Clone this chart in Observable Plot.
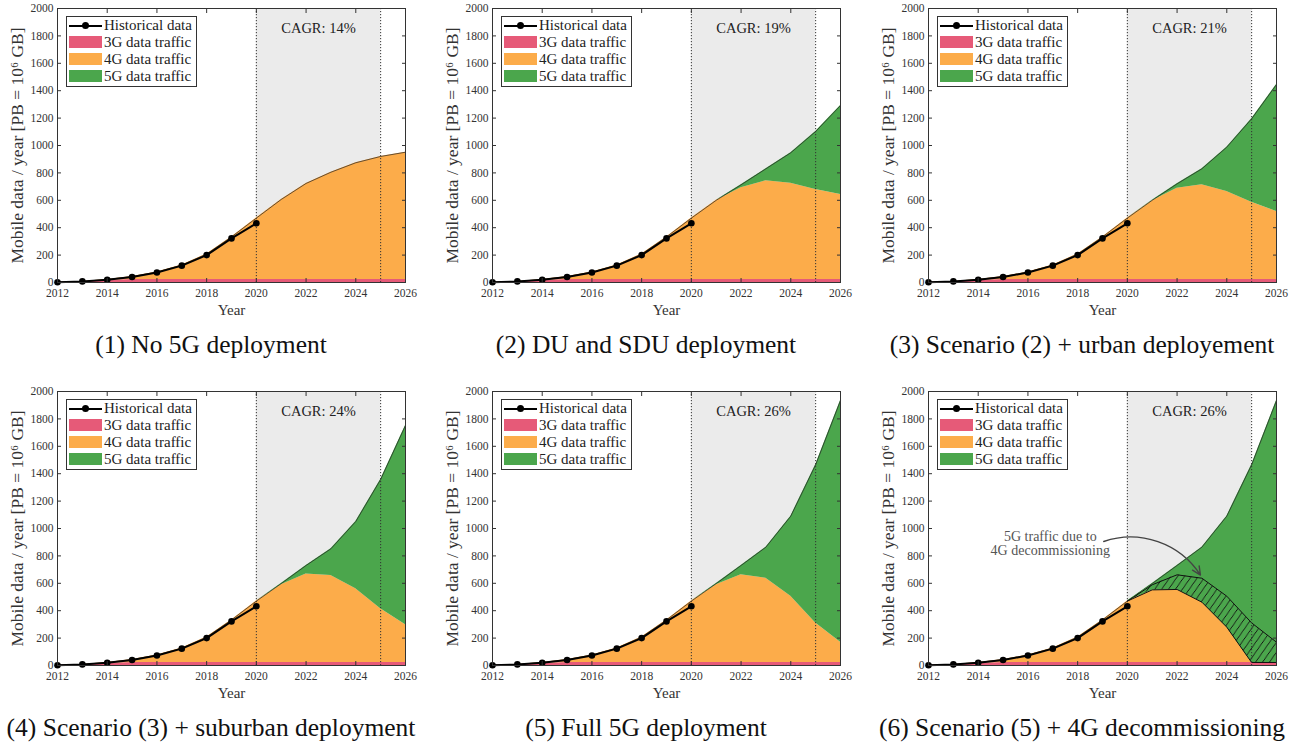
<!DOCTYPE html>
<html>
<head>
<meta charset="utf-8">
<script src="https://cdn.jsdelivr.net/npm/d3@7"></script>
<script src="https://cdn.jsdelivr.net/npm/@observablehq/plot@0.6"></script>
<style>
  body { margin: 0; background: #fff; }
  #fig { position: relative; width: 1309px; height: 744px; overflow: hidden; font-family: "Liberation Serif", serif; color: #222; }
  .panel { position: absolute; width: 430px; height: 322px; }
  .panel svg { position: absolute; left: 0; top: 0; }
  .legend { position: absolute; left: 66px; top: 16px; width: 129px; height: 69px; border: 1px solid #333; background: #fff; }
  .lrow { position: absolute; left: 0; height: 17px; width: 129px; }
  .sw { position: absolute; left: 2px; top: 2px; width: 33px; height: 12px; }
  .swline { position: absolute; left: 2px; top: 7.5px; width: 33px; height: 2px; background: #000; }
  .swdot { position: absolute; left: 15px; top: 5px; width: 7px; height: 7px; border-radius: 50%; background: #000; }
  .lt { position: absolute; left: 37px; top: 0; line-height: 17px; font-size: 15px; white-space: nowrap; color: #222; }
  .caption { position: absolute; left: -40px; width: 502px; top: 330px; line-height: 30px; text-align: center; font-size: 25.5px; white-space: nowrap; color: #111; }
</style>
</head>
<body>
<div id="fig"></div>
<script>
// ---------------- data ----------------
const years = [2012, 2013, 2014, 2015, 2016, 2017, 2018, 2019, 2020, 2021, 2022, 2023, 2024, 2025, 2026];
const histYears = [2012, 2013, 2014, 2015, 2016, 2017, 2018, 2019, 2020];
const histData = [2, 8, 20, 40, 73, 123, 200, 322, 432];

const traffic3G = [1, 6, 17, 22, 22, 22, 22, 22, 22, 22, 22, 22, 22, 22, 22];

const traffic4G_s1 = [1, 2, 5, 21, 54, 105, 186, 311, 448, 584, 701, 783, 852, 898, 929];
const traffic5G_s1 = [0, 0, 0, 0, 0, 0, 0, 0, 0, 0, 0, 0, 0, 0, 0];
const traffic4G_s2 = [1, 2, 5, 21, 54, 105, 186, 311, 448, 578, 669, 720, 703, 657, 620];
const traffic5G_s2 = [0, 0, 0, 0, 0, 0, 0, 0, 0, 0, 22, 88, 222, 423, 650];
const traffic4G_s3 = [1, 2, 5, 21, 54, 105, 186, 311, 448, 574, 666, 691, 642, 564, 496];
const traffic5G_s3 = [0, 0, 0, 0, 0, 0, 0, 0, 0, 4, 32, 117, 324, 609, 927];
const traffic4G_s4 = [1, 2, 5, 21, 54, 105, 186, 311, 448, 567, 645, 635, 538, 392, 275];
const traffic5G_s4 = [0, 0, 0, 0, 0, 0, 0, 0, 0, 9, 63, 195, 491, 944, 1455];
const traffic4G_s5 = [1, 2, 5, 21, 54, 105, 186, 311, 448, 567, 640, 615, 484, 289, 148];
const traffic5G_s5 = [0, 0, 0, 0, 0, 0, 0, 0, 0, 9, 68, 227, 584, 1154, 1764];
const traffic4G_s6 = [1, 2, 5, 21, 54, 105, 186, 311, 448, 530, 533, 440, 258, 0, 0];
const traffic5G_s6 = [0, 0, 0, 0, 0, 0, 0, 0, 0, 46, 175, 402, 810, 1443, 1912];

const cagr = [14, 19, 21, 24, 26, 26];
const captions = [
  "(1) No 5G deployment",
  "(2) DU and SDU deployment",
  "(3) Scenario (2) + urban deployement",
  "(4) Scenario (3) + suburban deployment",
  "(5) Full 5G deployment",
  "(6) Scenario (5) + 4G decommissioning"
];
const seriesNames = ["3G", "4G", "5G"];
const legendLabels = ["Historical data", "3G data traffic", "4G data traffic", "5G data traffic"];
const seriesColors = ["#e65a78", "#fcac4a", "#4ba64c"];
const forecastWindow = [2020, 2025];
const xTicks = [2012, 2014, 2016, 2018, 2020, 2022, 2024, 2026];
const yTicks = [0, 200, 400, 600, 800, 1000, 1200, 1400, 1600, 1800, 2000];
const yLabel = "Mobile data / year [PB = 10\u2076 GB]";
const xLabel = "Year";
const annotation = "5G traffic due to\n4G decommissioning";
const annotationPos = {x: 2016.9, y: 890};
const arrowFrom = {x: 2019.05, y: 905};
const arrowTo = {x: 2022.94, y: 660};

const traffic4G = [traffic4G_s1, traffic4G_s2, traffic4G_s3, traffic4G_s4, traffic4G_s5, traffic4G_s6];
const traffic5G = [traffic5G_s1, traffic5G_s2, traffic5G_s3, traffic5G_s4, traffic5G_s5, traffic5G_s6];

// ---------------- layout ----------------
const panelLefts = [0, 435, 871];
const panelTops = [0, 383];
const fig = document.getElementById("fig");

function makePlot(i) {
  const g4 = traffic4G[i], g5 = traffic5G[i];
  const rows = [];
  years.forEach((yr, j) => {
    rows.push({year: yr, series: "3G", value: traffic3G[j]});
    rows.push({year: yr, series: "4G", value: g4[j]});
    rows.push({year: yr, series: "5G", value: g5[j]});
  });
  const totals = years.map((yr, j) => ({year: yr, value: traffic3G[j] + g4[j] + g5[j]}));
  const hist = histYears.map((yr, j) => ({year: yr, value: histData[j]}));

  const marks = [
    Plot.rect([forecastWindow], {x1: d => d[0], x2: d => d[1], fill: "#ebebeb"}),
    Plot.areaY(rows, {x: "year", y: "value", fill: "series", order: seriesNames}),
    Plot.lineY(totals, {x: "year", y: "value", stroke: "#222", strokeWidth: 0.7})
  ];

  if (i === 5) {
    const hatchRows = years.map((yr, j) => ({
      year: yr,
      low: traffic3G[j] + traffic4G_s6[j],
      high: traffic3G[j] + traffic4G_s5[j]
    })).filter(d => d.year >= forecastWindow[0]);
    marks.push(
      Plot.areaY(hatchRows, {x: "year", y1: "low", y2: "high", fill: "url(#hatch6)"}),
      Plot.line(hatchRows, {x: "year", y: "high", stroke: "#111", strokeWidth: 1}),
      Plot.line(hatchRows, {x: "year", y: "low", stroke: "#111", strokeWidth: 1}),
      Plot.text([annotation], {x: annotationPos.x, y: annotationPos.y, text: d => d, fontSize: 14, fill: "#555", lineHeight: 1.0}),
      Plot.arrow([{}], {x1: arrowFrom.x, y1: arrowFrom.y, x2: arrowTo.x, y2: arrowTo.y, bend: 38, stroke: "#444", strokeWidth: 1.4, headLength: 10, headAngle: 50, insetEnd: 0})
    );
  }

  marks.push(
    Plot.ruleX(forecastWindow, {stroke: "#333", strokeDasharray: "1.2,1.8", strokeWidth: 1}),
    Plot.line(hist, {x: "year", y: "value", stroke: "#000", strokeWidth: 2}),
    Plot.dot(hist, {x: "year", y: "value", fill: "#000", r: 3.3}),
    Plot.text([cagr[i]], {x: (forecastWindow[0] + forecastWindow[1]) / 2, frameAnchor: "top", lineAnchor: "middle", dy: 20, text: d => `CAGR: ${d}%`, fontSize: 14.5, fill: "#222"}),
    Plot.text([xLabel], {frameAnchor: "bottom", lineAnchor: "middle", dy: 28, text: d => d, fontSize: 15, fill: "#333"}),
    Plot.text([yLabel], {frameAnchor: "left", textAnchor: "middle", lineAnchor: "middle", dx: -40, rotate: -90, text: d => d, fontSize: 17.5, fill: "#333"}),
    Plot.frame({stroke: "#333", strokeWidth: 1}),
    Plot.axisX(xTicks, {tickSize: 0, tickPadding: 6, tickFormat: d => String(d), label: null, fill: "#333"}),
    Plot.axisX(xTicks, {anchor: "bottom", tickSize: -4, tickFormat: () => "", label: null, stroke: "#333"}),
    Plot.axisX(xTicks, {anchor: "top", tickSize: -4, tickFormat: () => "", label: null, stroke: "#333"}),
    Plot.axisY(yTicks, {tickSize: 0, tickPadding: 4, tickFormat: d => String(d), label: null, fill: "#333"}),
    Plot.axisY(yTicks, {anchor: "left", tickSize: -4, tickFormat: () => "", label: null, stroke: "#333"}),
    Plot.axisY(yTicks, {anchor: "right", tickSize: -4, tickFormat: () => "", label: null, stroke: "#333"})
  );

  const svg = Plot.plot({
    width: 430,
    height: 322,
    marginLeft: 57,
    marginRight: 25,
    marginTop: 8,
    marginBottom: 40,
    style: {fontFamily: "'Liberation Serif', serif", fontSize: "11.5px", background: "transparent", color: "#333", overflow: "visible"},
    x: {domain: [years[0], years[years.length - 1]]},
    y: {domain: [yTicks[0], yTicks[yTicks.length - 1]]},
    color: {domain: seriesNames, range: seriesColors},
    marks
  });

  if (i === 5) {
    const defs = document.createElementNS("http://www.w3.org/2000/svg", "defs");
    defs.innerHTML = `<pattern id="hatch6" patternUnits="userSpaceOnUse" width="8" height="8" patternTransform="rotate(-10)">
      <rect width="8" height="8" fill="${seriesColors[2]}"></rect>
      <path d="M-2,2 L2,-2 M0,8 L8,0 M6,10 L10,6" stroke="#111" stroke-width="1"></path>
    </pattern>`;
    svg.insertBefore(defs, svg.firstChild);
  }
  return svg;
}

function makeLegend() {
  const box = document.createElement("div");
  box.className = "legend";
  legendLabels.forEach((lab, k) => {
    const row = document.createElement("div");
    row.className = "lrow";
    row.style.top = (k * 17) + "px";
    if (k === 0) {
      const ln = document.createElement("div"); ln.className = "swline"; row.appendChild(ln);
      const dt = document.createElement("div"); dt.className = "swdot"; row.appendChild(dt);
    } else {
      const sw = document.createElement("div"); sw.className = "sw"; sw.style.background = seriesColors[k - 1]; row.appendChild(sw);
    }
    const t = document.createElement("div"); t.className = "lt"; t.textContent = lab; row.appendChild(t);
    box.appendChild(row);
  });
  return box;
}

for (let i = 0; i < 6; i++) {
  const panel = document.createElement("div");
  panel.className = "panel";
  panel.style.left = panelLefts[i % 3] + "px";
  panel.style.top = panelTops[Math.floor(i / 3)] + "px";
  panel.appendChild(makePlot(i));
  panel.appendChild(makeLegend());
  const cap = document.createElement("div");
  cap.className = "caption";
  cap.textContent = captions[i];
  panel.appendChild(cap);
  fig.appendChild(panel);
}
</script>
</body>
</html>
